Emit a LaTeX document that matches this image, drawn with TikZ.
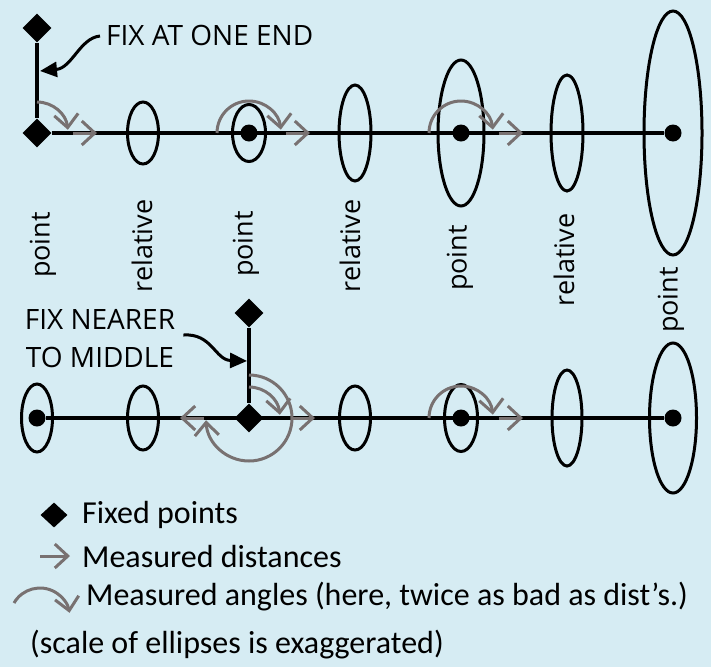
\documentclass[tikz,border=0pt]{standalone}
\usepackage{fontspec}
\setmainfont{Carlito}
\newfontfamily\labelfont{Open Sans}
\usetikzlibrary{shapes.geometric,arrows.meta}
\definecolor{bgblue}{RGB}{214,236,243}
\definecolor{markgray}{RGB}{120,113,113}

\begin{document}
\begin{tikzpicture}[x=1pt, y=1pt,
  axis/.style={line width=4pt},
  fixed/.style={diamond, fill=black, inner sep=0pt, minimum size=29pt},
  dot/.style={circle, fill=black, inner sep=0pt, minimum size=17pt},
  err/.style={ellipse, draw=black, line width=3pt, inner sep=0pt},
  lbl/.style={font=\labelfont\fontsize{27}{32}\selectfont, rotate=90, inner sep=0pt},
  fixlbl/.style={font=\labelfont\fontsize{28}{38}\selectfont, align=center, inner sep=0pt},
  fixarrow/.style={line width=3pt, -{Triangle[length=17pt, width=15pt]}},
  dist/.style={draw=markgray, line width=3pt, -{Straight Barb[length=13pt, width=24pt]}},
  ang/.style={draw=markgray, line width=3pt, -{Straight Barb[length=13pt, width=24pt]}},
  legend/.style={font=\fontsize{32}{36}\selectfont, anchor=west, inner sep=0pt},
]

% Background and picture size
\path[use as bounding box, fill=bgblue] (0,0) rectangle (711,-667);

% Column spacing and row heights
\def\stepx{106}
\def\rowa{-133}
\def\rowb{-418}

% Row 1: fixed at one end
\node[fixed] (d0) at (37, -28) {};
\node[fixed] (d1) at (37, \rowa) {};
\node[err, minimum width=31pt, minimum height=62pt] (e12) at (37+\stepx, \rowa) {};
\node[err, minimum width=33pt, minimum height=57pt] (e13) at (37+2*\stepx, \rowa) {};
\node[dot] (p13) at (37+2*\stepx, \rowa) {};
\node[err, minimum width=32pt, minimum height=96pt] (e14) at (37+3*\stepx, \rowa) {};
\node[err, minimum width=46pt, minimum height=146pt] (e15) at (37+4*\stepx, \rowa) {};
\node[dot] (p15) at (37+4*\stepx, \rowa) {};
\node[err, minimum width=32pt, minimum height=116pt] (e16) at (37+5*\stepx, \rowa) {};
\node[err, minimum width=58pt, minimum height=244pt] (e17) at (37+6*\stepx, \rowa) {};
\node[dot] (p17) at (37+6*\stepx, \rowa) {};
\draw[axis] (d0) -- (d1);
\draw[axis] (d1) -- (p17);

% Row 1 labels
\node[fixlbl, anchor=west] (fix1) at (106, -35) {FIX AT ONE END};
\coordinate (fixA) at (40, -71);
\draw[fixarrow] ([xshift=-6pt, yshift=-1pt]fix1.west) .. controls (80,-38) and (72,-68) .. (fixA);

% Row 1 measurements
\draw[ang] ([yshift=31pt]d1.center) arc[start angle=90, end angle=6, radius=31];
\draw[dist] ([xshift=36pt]d1.center) -- ([xshift=60pt]d1.center);
\draw[ang] ([xshift=-32pt]p13.center) arc[start angle=180, end angle=6, radius=32];
\draw[dist] ([xshift=37pt]p13.center) -- ([xshift=61pt]p13.center);
\draw[ang] ([xshift=-32pt]p15.center) arc[start angle=180, end angle=6, radius=32];
\draw[dist] ([xshift=38pt]p15.center) -- ([xshift=62pt]p15.center);

% Kind of each position
\node[lbl] (l1) at (43, -245) {point};
\node[lbl] (l2) at (142, -246) {relative};
\node[lbl] (l3) at (246, -244) {point};
\node[lbl] (l4) at (350, -246) {relative};
\node[lbl] (l5) at (460, -258) {point};
\node[lbl] (l6) at (564, -260) {relative};
\node[lbl] (l7) at (671, -300) {point};

% Row 2: fixed nearer to middle
\node[err, minimum width=31pt, minimum height=68pt] (e21) at (37, \rowb) {};
\node[dot] (p21) at (37, \rowb) {};
\node[err, minimum width=31pt, minimum height=64pt] (e22) at (37+\stepx, \rowb) {};
\node[fixed] (d2top) at (37+2*\stepx, -313) {};
\node[fixed] (d2) at (37+2*\stepx, \rowb) {};
\node[err, minimum width=31pt, minimum height=64pt] (e24) at (37+3*\stepx, \rowb) {};
\node[err, minimum width=33pt, minimum height=67pt] (e25) at (37+4*\stepx, \rowb) {};
\node[dot] (p25) at (37+4*\stepx, \rowb) {};
\node[err, minimum width=30pt, minimum height=96pt] (e26) at (37+5*\stepx, \rowb) {};
\node[err, minimum width=47pt, minimum height=150pt] (e27) at (37+6*\stepx, \rowb) {};
\node[dot] (p27) at (37+6*\stepx, \rowb) {};
\draw[axis] (d2top) -- (d2);
\draw[axis] (p21) -- (p27);

% Row 2 labels
\node[fixlbl] (fix2) at (100, -339) {FIX NEARER\\TO MIDDLE};
\coordinate (fixB) at (247, -361);
\draw[fixarrow] ([xshift=8pt, yshift=4pt]fix2.east) .. controls (212,-333) and (215,-360) .. (fixB);

% Row 2 measurements
\draw[ang] ([yshift=31pt]d2.center) arc[start angle=90, end angle=6, radius=31];
\draw[ang] ([yshift=43pt]d2.center) arc[start angle=90, end angle=-177, radius=43];
\draw[dist] ([xshift=42pt]d2.center) -- ([xshift=66pt]d2.center);
\draw[dist] ([xshift=-45pt]d2.center) -- ([xshift=-69pt]d2.center);
\draw[ang] ([xshift=-32pt]p25.center) arc[start angle=180, end angle=6, radius=32];
\draw[dist] ([xshift=38pt]p25.center) -- ([xshift=62pt]p25.center);

% Legend
\node[fixed, minimum width=27pt, minimum height=25pt] (kfix) at (54, -515) {};
\node[legend] (tfix) at (82, -515) {Fixed points};
\coordinate (kdist) at (40, -556);
\draw[dist] (kdist) -- ++(30,0);
\node[legend] (tdist) at (82, -556) {Measured distances};
\coordinate (kang) at (14, -603);
\draw[ang] (kang) arc[start angle=150, end angle=10, radius=30];
\node[legend] (tang) at (86, -597) {Measured angles (here, twice as bad as dist’s.)};
\node[legend] (tscale) at (30, -645) {(scale of ellipses is exaggerated)};

\end{tikzpicture}
\end{document}
